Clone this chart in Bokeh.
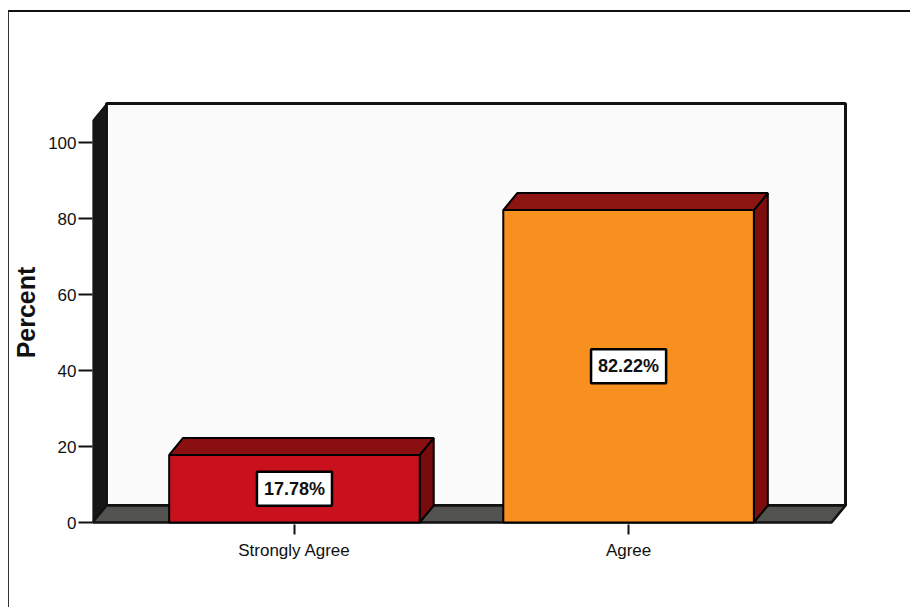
from bokeh.plotting import figure
from bokeh.models import ColumnDataSource, FixedTicker, Range1d
from bokeh.core.properties import value
from bokeh.embed import file_html
from bokeh.resources import INLINE

# ---- data ----
categories = ["Strongly Agree", "Agree"]
percents = [17.78, 82.22]
front_colors = ["#c8111c", "#f7901f"]
top_colors = ["#8a0f10", "#8c1512"]
side_colors = ["#780b0c", "#7e0d0d"]
y_ticks = [0, 20, 40, 60, 80, 100]

# ---- geometry (pixel scale of the reference) ----
PX_X = 335.0      # pixels per category step
PX_Y = 3.8        # pixels per percent
X0_PX, Y0_PX = 292.5, 522.0   # page pixel of category 0 / value 0
FRAME = dict(left=90, right=849, top=100, bottom=524)
OFF_L, OFF_T = 9, 12          # css offset of the figure in the page
W, H = 902, 597

def dx(px):
    return (px - X0_PX) / PX_X

def dy(py):
    return (Y0_PX - py) / PX_Y

DX = 14 / PX_X
DY = 17 / PX_Y
BAR_W = 0.75

x_start, x_end = dx(FRAME["left"]), dx(FRAME["right"])
y_start, y_end = dy(FRAME["bottom"]), dy(FRAME["top"])

p = figure(width=W, height=H, output_backend="svg", toolbar_location=None,
           x_range=Range1d(x_start, x_end), y_range=Range1d(y_start, y_end),
           min_border_left=FRAME["left"] - OFF_L,
           min_border_right=W - (FRAME["right"] - OFF_L),
           min_border_top=FRAME["top"] - OFF_T,
           min_border_bottom=H - (FRAME["bottom"] - OFF_T))
p.styles = {"margin-left": "8px", "margin-top": "10px",
            "border-left": "1px solid #333", "border-top": "2px solid #111"}
p.outline_line_color = None
p.grid.visible = False
p.background_fill_color = "white"
p.border_fill_color = "white"

# ---- walls and floor ----
wx0 = x_start
wall_top_back = dy(103)
back_right = dx(845)
p.patch([wx0 + DX, wx0 + DX, back_right, back_right],
        [DY, wall_top_back, wall_top_back, DY],
        fill_color="#fafafa", line_color="#111111", line_width=3)
p.patch([wx0, wx0, wx0 + DX, wx0 + DX],
        [0, wall_top_back - DY, wall_top_back, DY],
        fill_color="#161616", line_color="#111111", line_width=1)
floor_right = back_right - DX
p.patch([wx0, floor_right, floor_right + DX, wx0 + DX],
        [0, 0, DY, DY],
        fill_color="#52524e", line_color="#111111", line_width=2.5)

# ---- 3D bars ----
xs = list(range(len(categories)))
lefts = [x - BAR_W / 2 for x in xs]
rights = [x + BAR_W / 2 for x in xs]
src = ColumnDataSource(dict(x=xs, left=lefts, right=rights, top=percents,
                            bottom=[0] * len(xs), color=front_colors,
                            label=[f"{v:.2f}%" for v in percents],
                            ymid=[v / 2 for v in percents]))
top_xs = [[l, l + DX, r + DX, r] for l, r in zip(lefts, rights)]
top_ys = [[v, v + DY, v + DY, v] for v in percents]
side_xs = [[r, r, r + DX, r + DX] for r in rights]
side_ys = [[0, v, v + DY, DY] for v in percents]
p.patches(side_xs, side_ys, fill_color=side_colors, line_color="black", line_width=2)
p.patches(top_xs, top_ys, fill_color=top_colors, line_color="black", line_width=2)
p.quad(left="left", right="right", top="top", bottom="bottom", source=src,
       fill_color="color", line_color="black", line_width=2)

p.text(x="x", y="ymid", text="label", source=src,
       text_align="center", text_baseline="middle",
       text_font=value("Liberation Sans"), text_font_size="18px",
       text_font_style="bold", text_color="#111111",
       background_fill_color="white", border_line_color="black",
       border_line_width=2.5, padding=7)

# ---- axes ----
p.yaxis.ticker = FixedTicker(ticks=y_ticks)
p.yaxis.axis_line_color = None
p.yaxis.major_tick_out = 14
p.yaxis.major_tick_in = 0
p.yaxis.major_tick_line_width = 2
p.yaxis.major_tick_line_color = "#111111"
p.yaxis.minor_tick_line_color = None
p.yaxis.major_label_text_font = "Liberation Sans"
p.yaxis.major_label_text_font_size = "17px"
p.yaxis.major_label_text_color = "#111111"
p.yaxis.major_label_standoff = 2
p.yaxis.axis_label = "Percent"
p.yaxis.axis_label_text_font = "Liberation Sans"
p.yaxis.axis_label_text_font_size = "25px"
p.yaxis.axis_label_text_font_style = "bold"
p.yaxis.axis_label_text_color = "#111111"
p.yaxis.axis_label_standoff = 5

p.xaxis.ticker = FixedTicker(ticks=xs)
p.xaxis.major_label_overrides = {i: c for i, c in zip(xs, categories)}
p.xaxis.axis_line_color = None
p.xaxis.major_tick_out = 10
p.xaxis.major_tick_in = 0
p.xaxis.major_tick_line_width = 2
p.xaxis.major_tick_line_color = "#111111"
p.xaxis.minor_tick_line_color = None
p.xaxis.major_label_text_font = "Liberation Sans"
p.xaxis.major_label_text_font_size = "17px"
p.xaxis.major_label_text_color = "#111111"
p.xaxis.major_label_standoff = 6

open("out.html", "w").write(file_html(p, INLINE))
